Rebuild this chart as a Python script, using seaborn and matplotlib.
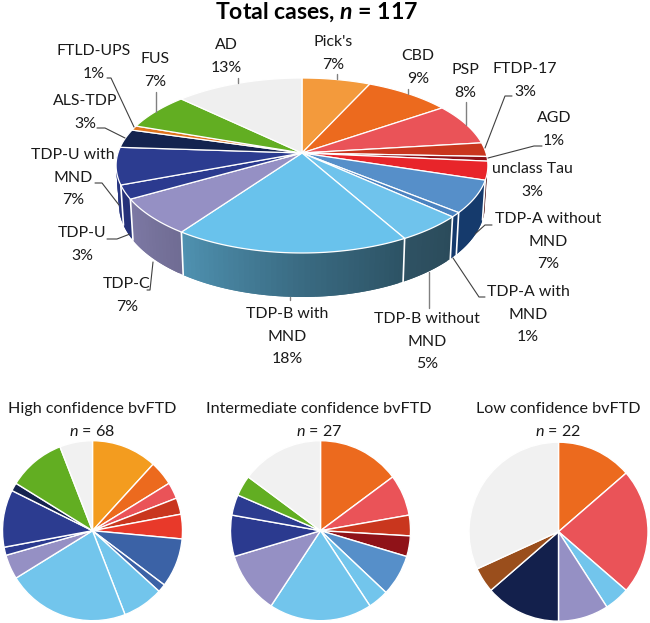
import numpy as np
import matplotlib
matplotlib.use("Agg")
import matplotlib.pyplot as plt
from matplotlib.colors import to_rgb
import seaborn as sns

# ---------- data ----------
CATEGORIES = ["Pick's", "CBD", "PSP", "FTDP-17", "AGD", "unclass Tau",
              "TDP-A without\nMND", "TDP-A with\nMND", "TDP-B without\nMND",
              "TDP-B with\nMND", "TDP-C", "TDP-U", "TDP-U with\nMND",
              "ALS-TDP", "FTLD-UPS", "FUS", "AD"]
TOTAL_PCT = [7, 9, 8, 3, 1, 3, 7, 1, 5, 18, 7, 3, 7, 3, 1, 7, 13]
TOTAL = [8, 10, 9, 3, 1, 4, 7, 1, 6, 21, 8, 3, 8, 4, 1, 8, 15]
HIGH = [8, 3, 2, 2, 0, 3, 6, 1, 5, 15, 3, 1, 7, 1, 0, 7, 4]
INTERMEDIATE = [0, 4, 2, 1, 1, 0, 2, 0, 1, 5, 3, 2, 1, 0, 0, 1, 4]
LOW = [0, 3, 5, 0, 0, 0, 0, 0, 0, 1, 2, 0, 0, 3, 1, 0, 7]
PANEL_TITLES = ["High confidence bvFTD", "Intermediate confidence bvFTD", "Low confidence bvFTD"]
PANEL_N = [68, 27, 22]

# ---------- styles ----------
TOP_COLORS = ["#F39A3C", "#EC6A1E", "#EA5358", "#C9361E", "#8F1218", "#E8252A",
              "#568FC9", "#4A82C0", "#6FC3EC", "#69C2EC", "#9590C4", "#2B3A8F",
              "#2C3C90", "#14234F", "#E0751E", "#62AE22", "#EFEFEF"]
HIGH_COLORS = ["#F39C1F", "#EC6A1E", "#EA5358", "#C9361E", "#8F1218", "#E8392A",
               "#3B62A6", "#3B62A6", "#72C5EC", "#72C5EC", "#9590C4", "#2B3A8F",
               "#2C3C90", "#14234F", "#E0751E", "#62AE22", "#F1F1F1"]
INTER_COLORS = ["#F39C1F", "#EC6A1E", "#EA5358", "#C9361E", "#8F1218", "#E8392A",
                "#568FC9", "#4A82C0", "#72C5EC", "#72C5EC", "#9590C4", "#2B3A8F",
                "#2C3C90", "#14234F", "#E0751E", "#62AE22", "#F1F1F1"]
LOW_COLORS = ["#F39C1F", "#EC6A1E", "#EA5358", "#C9361E", "#8F1218", "#E8392A",
              "#568FC9", "#4A82C0", "#72C5EC", "#72C5EC", "#9590C4", "#2B3A8F",
              "#2C3C90", "#13204C", "#9A4E1C", "#62AE22", "#F1F1F1"]
WALL_OVERRIDE = {6: "#153A6C", 7: "#153A6C"}

sns.set_theme(style="white")
FONT = "Lato"
plt.rcParams.update({
    "font.family": [FONT, "DejaVu Sans"],
    "mathtext.fontset": "custom",
    "mathtext.rm": FONT,
    "mathtext.it": f"{FONT}:italic",
    "mathtext.bf": f"{FONT}:bold",
    "mathtext.bfit": f"{FONT}:italic:bold",
})
top_palette = sns.color_palette(TOP_COLORS)
TEXT = "#1a1a1a"

W, H = 650, 623
fig = plt.figure(figsize=(W / 100, H / 100), dpi=100, facecolor="white")
ax = fig.add_axes([0, 0, 1, 1])
ax.set_xlim(0, W)
ax.set_ylim(H, 0)
ax.axis("off")

# ---------- perspective pie ----------
CX, CY = 302, 153
A, B, K = 184.0, 85.7, 1 / 7
RIM_SHIFT, RIM_BULGE, RIM_SCALE = 38, 6, 0.985


def project(phi):
    x, y = np.sin(phi), np.cos(phi)
    d = 1 + K * y
    return CX + A * x / d, CY - B * y / d


def lower(phi):
    px, py = project(phi)
    return CX + (px - CX) * RIM_SCALE, py + RIM_SHIFT + RIM_BULGE * np.clip(-np.cos(phi), 0, 1)


def wall_shade(phi):
    deg = np.degrees(phi)
    return np.interp(deg, [105, 150, 180, 215, 240, 265], [0.33, 0.42, 0.55, 0.75, 0.84, 0.9])


edges = np.concatenate([[0], np.cumsum(TOTAL)]) / np.sum(TOTAL) * 2 * np.pi
vis0, vis1 = np.radians(103), np.radians(268)

# side wall, drawn as thin shaded strips that overlap to hide seams
for i, col in enumerate(top_palette):
    a0, a1 = max(edges[i], vis0), min(edges[i + 1], vis1)
    if a1 <= a0:
        continue
    n = max(2, int(np.degrees(a1 - a0) / 1.5) + 1)
    ts = np.linspace(a0, a1, n)
    step = ts[1] - ts[0]
    for t0, t1 in zip(ts[:-1], ts[1:]):
        tt = np.linspace(t0, min(t1 + step, a1), 4)
        xu, yu = project(tt)
        xl, yl = lower(tt)
        if i in WALL_OVERRIDE:
            c = to_rgb(WALL_OVERRIDE[i])
        else:
            c = tuple(np.array(to_rgb(col)) * wall_shade((t0 + t1) / 2))
        ax.fill(np.r_[xu, xl[::-1]], np.r_[yu, yl[::-1]], facecolor=c, edgecolor="none", zorder=1)
for e in edges:
    if vis0 < e < vis1:
        xu, yu = project(np.array([e]))
        xl, yl = lower(np.array([e]))
        ax.plot([xu[0], xl[0]], [yu[0], yl[0]], color="white", lw=1.2, zorder=2)

# top surface
for i, col in enumerate(top_palette):
    tt = np.linspace(edges[i], edges[i + 1], max(3, int(np.degrees(edges[i + 1] - edges[i])) + 2))
    xs, ys = project(tt)
    ax.fill(np.r_[CX, xs], np.r_[CY, ys], facecolor=col, edgecolor="white", lw=0.9,
            joinstyle="round", zorder=3)

# ---------- labels for the main pie ----------
LINE = 22.6
LABEL_POS = [(333, 42), (418, 56), (465, 70), (525, 69), (554, 118), (532, 169),
             (548, 219), (528, 292), (427, 319), (287, 314), (127, 284), (82, 233),
             (73, 155), (85, 101), (94, 51), (155, 59), (226, 45)]
for name, pct, (lx, ly) in zip(CATEGORIES, TOTAL_PCT, LABEL_POS):
    for j, line in enumerate(name.split("\n") + [f"{pct}%"]):
        ax.text(lx, ly + j * LINE, line, ha="center", va="center", fontsize=11.4, color=TEXT, zorder=5)

GRAY_LEADERS = [[(238, 78), (238, 83)], [(337, 74), (337, 79)], [(408, 89), (408, 94)],
                [(466, 102), (466, 125)], [(429, 272), (429, 308)], [(290, 297), (290, 300)],
                [(156, 92), (156, 112)]]
DARK_LEADERS = [[(512, 96), (505, 96), (485, 148)], [(542, 146), (534, 146), (488, 158)],
                [(492, 225), (485, 225), (475, 234)], [(485, 297), (479, 297), (453, 258)],
                [(153, 262), (150, 290), (147, 290)], [(107, 239), (117, 239), (130, 234)],
                [(95, 183), (102, 183), (119, 205)], [(97, 128), (105, 128), (125, 138)],
                [(107, 78), (111, 78), (134, 127)]]
for seg in GRAY_LEADERS:
    ax.plot(*zip(*seg), color="#808080", lw=1, zorder=4)
for seg in DARK_LEADERS:
    ax.plot(*zip(*seg), color="#404040", lw=0.8, zorder=4)

ax.text(316.5, 12, r"Total cases, $\mathbfit{n}$ = 117", ha="center", va="center",
        fontsize=16.6, fontweight="bold", color="black", zorder=5)

# ---------- small pies ----------
PANELS = [(HIGH, HIGH_COLORS, 92.5, 530.7, 90, 92),
          (INTERMEDIATE, INTER_COLORS, 320.5, 530.7, 90, 319),
          (LOW, LOW_COLORS, 558.5, 531.7, 89.5, 558)]
for (vals, cols, px, py, r, tx), title, n in zip(PANELS, PANEL_TITLES, PANEL_N):
    pad = r + 2
    sub = fig.add_axes([(px - pad) / W, 1 - (py + pad) / H, 2 * pad / W, 2 * pad / H])
    v = [x for x in vals if x > 0]
    c = [col for x, col in zip(vals, sns.color_palette(cols)) if x > 0]
    sub.pie(v, colors=c, startangle=90, counterclock=False, radius=r / pad,
            wedgeprops=dict(edgecolor="white", linewidth=1.0))
    sub.set_xlim(-1, 1)
    sub.set_ylim(-1, 1)
    sub.set_aspect("equal")
    ax.text(tx, 409, title, ha="center", va="center", fontsize=11.6, color=TEXT, zorder=5)
    ax.text(tx, 431, rf"$\mathit{{n}}$ = {n}", ha="center", va="center", fontsize=11.6,
            color=TEXT, zorder=5)

fig.savefig("out.png", dpi=100, facecolor="white")
